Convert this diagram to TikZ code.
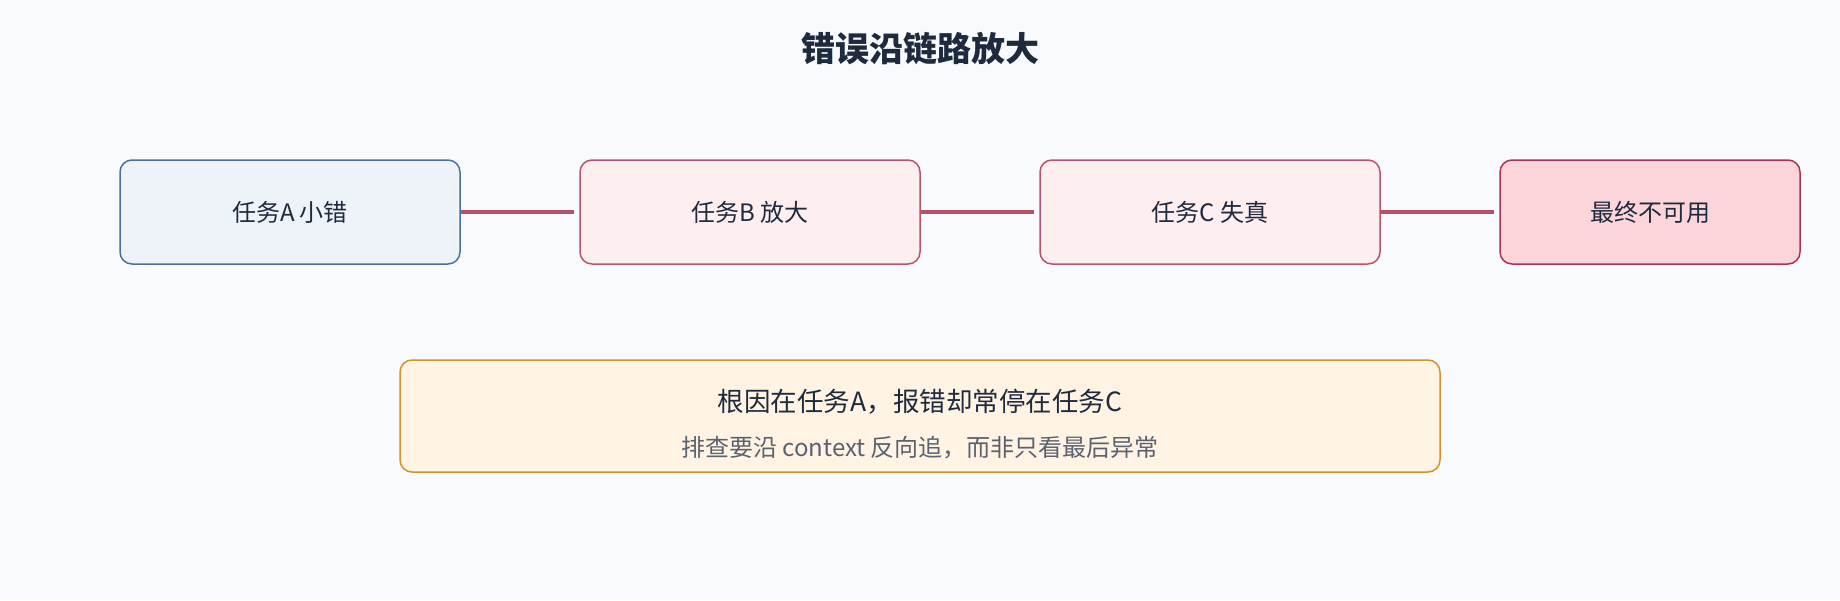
\documentclass[tikz,border=0pt]{standalone}
\usepackage{fontspec}
\setmainfont{Noto Sans CJK SC}
\usetikzlibrary{positioning}
\definecolor{bg}{HTML}{F8FAFE}
\definecolor{ink}{HTML}{1E2A3E}
\definecolor{blueline}{HTML}{4A6FA5}
\definecolor{bluefill}{HTML}{EEF3FA}
\definecolor{redline}{HTML}{C0506A}
\definecolor{redfill}{HTML}{FDEEEF}
\definecolor{deepline}{HTML}{B03050}
\definecolor{deepfill}{HTML}{FBD5DA}
\definecolor{link}{HTML}{B85068}
\definecolor{orline}{HTML}{D9902A}
\definecolor{orfill}{HTML}{FFF3E3}
\definecolor{subgray}{HTML}{5A6272}
\begin{document}
\begin{tikzpicture}[x=1pt, y=-1pt,
  task/.style={rounded corners=12pt, line width=1.5pt, minimum width=340pt,
    minimum height=104pt, text=ink, font=\fontsize{24}{28}\selectfont},
  link/.style={draw=link, line width=3.5pt, shorten >=5pt}]
 \fill[bg] (0,0) rectangle (1840,600);

 \node[text=ink, font=\fontsize{34}{38}\selectfont\bfseries] (title) at (920,49) {错误沿链路放大};

 \node[task, draw=blueline, fill=bluefill] (a) at (290,212) {任务A 小错};
 \node[task, draw=redline, fill=redfill] (b) at (750,212) {任务B 放大};
 \node[task, draw=redline, fill=redfill] (c) at (1210,212) {任务C 失真};
 \node[task, draw=deepline, fill=deepfill, minimum width=300pt] (d) at (1650,212) {最终不可用};

 \path[link] (a) -- (b);
 \path[link] (b) -- (c);
 \path[link] (c) -- (d);

 \node[rounded corners=12pt, line width=1.5pt, draw=orline, fill=orfill,
   minimum width=1040pt, minimum height=112pt] (note) at (920,416) {};
 \node[text=ink, font=\fontsize{26.5}{30}\selectfont] (cause) at (920,402) {根因在任务A，报错却常停在任务C};
 \node[text=subgray, font=\fontsize{24}{28}\selectfont] (hint) at (920,448) {排查要沿 context 反向追，而非只看最后异常};
\end{tikzpicture}
\end{document}
